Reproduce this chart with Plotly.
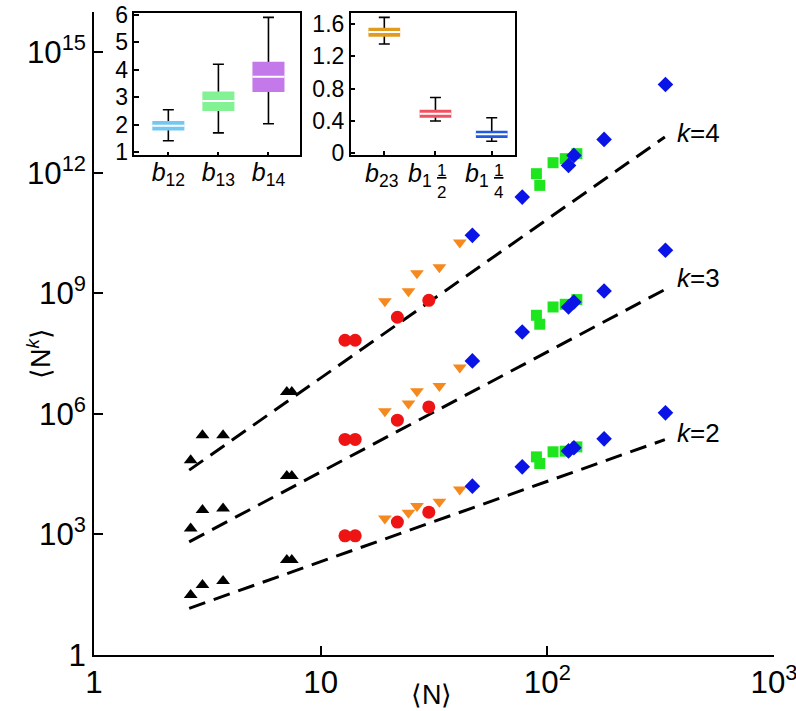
import plotly.graph_objects as go

# ---------------- main panel data ----------------
N_black = [2.67, 3.01, 3.71, 7.09, 7.46]
Nk2_black = [31, 55, 69, 230, 230]
Nk3_black = [1.41e3, 4.03e3, 4.44e3, 2.83e4, 2.83e4]
Nk4_black = [7.05e4, 2.95e5, 2.95e5, 3.52e6, 3.52e6]

N_red = [12.8, 14.2, 21.8, 30.0]
Nk2_red = [925, 925, 2.03e3, 3.59e3]
Nk3_red = [2.31e5, 2.31e5, 6.97e5, 1.49e6]
Nk4_red = [6.79e7, 6.79e7, 2.54e8, 6.70e8]

N_orange = [19.2, 24.4, 26.6, 33.4, 41.1]
Nk2_orange = [2.51e3, 3.45e3, 5.07e3, 6.49e3, 1.32e4]
Nk3_orange = [1.17e6, 1.81e6, 3.66e6, 4.97e6, 1.42e7]
Nk4_orange = [6.34e8, 1.12e9, 3.15e9, 4.44e9, 1.85e10]

N_blue = [46.7, 77.5, 124, 131, 178, 332]
Nk2_blue = [1.59e4, 4.81e4, 1.20e5, 1.43e5, 2.39e5, 1.06e6]
Nk3_blue = [2.08e7, 1.09e8, 4.57e8, 6.08e8, 1.14e9, 1.18e10]
Nk4_blue = [2.77e10, 2.48e11, 1.52e12, 2.70e12, 6.75e12, 1.57e14]

N_green = [89.5, 92.6, 106, 120, 135]
Nk2_green = [8.51e4, 5.83e4, 1.14e5, 1.18e5, 1.51e5]
Nk3_green = [2.84e8, 1.70e8, 4.57e8, 5.33e8, 6.98e8]
Nk4_green = [9.48e11, 4.85e11, 1.78e12, 2.24e12, 2.98e12]

fit_N = [2.63, 20, 330]
fit_k2 = [14.5, 838, 2.28e5]
fit_k3 = [656, 2.83e5, 1.24e9]
fit_k4 = [3.98e4, 1.2e8, 7.77e12]

# ---------------- inset data ----------------
inset1_labels = ['<i>b</i><sub>12</sub>', '<i>b</i><sub>13</sub>', '<i>b</i><sub>14</sub>']
inset1_low = [1.41, 1.70, 2.03]
inset1_q1 = [1.79, 2.50, 3.19]
inset1_med = [1.96, 2.86, 3.75]
inset1_q3 = [2.13, 3.21, 4.29]
inset1_high = [2.54, 4.20, 5.91]

inset2_main = ['23', '1', '1']
inset2_frac = ['', '2', '4']
inset2_low = [1.35, 0.40, 0.15]
inset2_q1 = [1.44, 0.44, 0.19]
inset2_med = [1.50, 0.49, 0.235]
inset2_q3 = [1.55, 0.54, 0.28]
inset2_high = [1.68, 0.69, 0.44]

# ---------------- styling ----------------
FONT = "Liberation Sans, Arial, sans-serif"
inset1_pos = [0, 1, 2]
inset2_pos = [0, 1, 2.1]
inset1_colors = ['#74C7F0', '#82F294', '#C379EA']
inset2_colors = ['#E19B1E', '#EF5363', '#2059E3']
PW = 680.0  # plot width in px

fig = go.Figure()

# dashed reference lines
for yy in (fit_k2, fit_k3, fit_k4):
    fig.add_trace(go.Scatter(x=fit_N, y=yy, mode='lines', showlegend=False,
                             line=dict(color='black', width=3, dash='17px,9px'),
                             xaxis='x', yaxis='y'))

series = [
    (N_black, (Nk2_black, Nk3_black, Nk4_black), 'triangle-up', 'black', 12),
    (N_red, (Nk2_red, Nk3_red, Nk4_red), 'circle', '#EE1414', 13),
    (N_orange, (Nk2_orange, Nk3_orange, Nk4_orange), 'triangle-down', '#F5891E', 12),
    (N_green, (Nk2_green, Nk3_green, Nk4_green), 'square', '#1EE61E', 11),
    (N_blue, (Nk2_blue, Nk3_blue, Nk4_blue), 'diamond', '#0A14E6', 12),
]
for xs, ys_list, sym, col, sz in series:
    for ys in ys_list:
        fig.add_trace(go.Scatter(x=xs, y=ys, mode='markers', showlegend=False,
                                 marker=dict(symbol=sym, color=col, size=sz,
                                             line=dict(width=0)),
                                 xaxis='x', yaxis='y'))


def add_inset(pos, low, q1, med, q3, high, colors, xa, ya, bw):
    # whiskers (drawn below the boxes)
    fig.add_trace(go.Bar(x=pos, y=med, base=0, width=bw,
                         marker=dict(color='rgba(0,0,0,0)', line=dict(width=0)),
                         error_y=dict(type='data', symmetric=False,
                                      array=[h - m for h, m in zip(high, med)],
                                      arrayminus=[m - l for m, l in zip(med, low)],
                                      color='black', thickness=1.6, width=5.5),
                         showlegend=False, xaxis=xa, yaxis=ya))
    # boxes
    fig.add_trace(go.Bar(x=pos, y=[b - a for a, b in zip(q1, q3)], base=q1, width=bw,
                         marker=dict(color=colors, line=dict(width=0)),
                         showlegend=False, xaxis=xa, yaxis=ya))
    # medians
    mx, my = [], []
    for p, m in zip(pos, med):
        mx += [p - bw / 2, p + bw / 2, None]
        my += [m, m, None]
    fig.add_trace(go.Scatter(x=mx, y=my, mode='lines', line=dict(color='white', width=2),
                             showlegend=False, xaxis=xa, yaxis=ya))


add_inset(inset1_pos, inset1_low, inset1_q1, inset1_med, inset1_q3, inset1_high,
          inset1_colors, 'x2', 'y2', 0.64)
add_inset(inset2_pos, inset2_low, inset2_q1, inset2_med, inset2_q3, inset2_high,
          inset2_colors, 'x3', 'y3', 0.62)

axis_common = dict(showline=True, linecolor='black', linewidth=2, ticks='inside',
                   tickcolor='black', showgrid=False, zeroline=False, automargin=False,
                   tickfont=dict(family=FONT, size=25, color='black'))
inset_common = dict(showline=True, linecolor='black', linewidth=1.5, mirror=True,
                    ticks='inside', tickcolor='black', tickwidth=1.5, automargin=False,
                    showgrid=False, zeroline=False,
                    tickfont=dict(family=FONT, size=23, color='black'))

annotations = []
# inset 2 x labels
for p, m, f in zip(inset2_pos, inset2_main, inset2_frac):
    if f == '':
        annotations.append(dict(x=p, y=0, xref='x3', yref='y3 domain', xanchor='center',
                                yanchor='top', yshift=-2, xshift=-3, showarrow=False,
                                text='<i>b</i><sub>' + m + '</sub>',
                                font=dict(family=FONT, size=25, color='black')))
    else:
        annotations.append(dict(x=p, y=0, xref='x3', yref='y3 domain', xanchor='right',
                                yanchor='top', yshift=-2, xshift=-1, showarrow=False,
                                text='<i>b</i><sub>' + m + '</sub>',
                                font=dict(family=FONT, size=25, color='black')))
        annotations.append(dict(x=p, y=0, xref='x3', yref='y3 domain', xanchor='left',
                                yanchor='top', yshift=-4, xshift=0, showarrow=False,
                                text='<u>1</u><br>' + f,
                                font=dict(family=FONT, size=17, color='black')))

# k labels
for txt, ypx in (('4', 116), ('3', 278), ('2', 433)):
    annotations.append(dict(x=(722 - 94) / PW, y=(655 - ypx) / 643, xref='paper',
                            yref='paper', showarrow=False, text='<i>k</i>=' + txt,
                            font=dict(family=FONT, size=26, color='black')))
# axis titles
annotations.append(dict(x=(432 - 94) / PW, y=(655 - 712) / 643, xref='paper', yref='paper',
                        showarrow=False, text='\u27e8N\u27e9',
                        font=dict(family=FONT, size=27, color='black')))
annotations.append(dict(x=(20 - 94) / PW, y=(655 - 354) / 643, xref='paper', yref='paper',
                        showarrow=False, text='\u27e8N<sup><i>k</i></sup>\u27e9', textangle=-90,
                        font=dict(family=FONT, size=27, color='black')))

fig.update_layout(
    template='none',
    width=796, height=711,
    margin=dict(l=94, r=22, t=12, b=56, autoexpand=False),
    paper_bgcolor='white', plot_bgcolor='white',
    barmode='overlay', showlegend=False,
    font=dict(family=FONT, color='black'),
    xaxis=dict(type='log', range=[0, 3], dtick=1, exponentformat='power',
               ticklen=9, tickwidth=2, ticklabelstandoff=0, ticklabeloverflow='allow',
               anchor='y', **axis_common),
    yaxis=dict(type='log', range=[0, 16], dtick=3, tick0=0, exponentformat='power',
               ticklen=9, tickwidth=2, ticklabelstandoff=1, ticklabeloverflow='allow',
               anchor='x', **axis_common),
    xaxis2=dict(domain=[(134.3 - 94) / PW, (300 - 94) / PW], range=[-0.68, 2.63], anchor='y2',
                tickvals=inset1_pos, ticktext=inset1_labels, ticklen=4, ticklabelstandoff=-6,
                **{**inset_common, 'tickfont': dict(family=FONT, size=25, color='black')}),
    yaxis2=dict(domain=[0.7771, 0.998], range=[0.88, 6.06], anchor='x2', dtick=1,
                ticklen=5, ticklabelstandoff=0, **inset_common),
    xaxis3=dict(domain=[(350.7 - 94) / PW, (515 - 94) / PW], range=[-0.657, 2.555], anchor='y3',
                tickvals=inset2_pos, showticklabels=False, ticklen=4, **inset_common),
    yaxis3=dict(domain=[0.7776, 0.998], range=[-0.02, 1.73], anchor='x3', dtick=0.4,
                tick0=0, ticklen=5, ticklabelstandoff=0, **inset_common),
    annotations=annotations,
)

fig.write_html(
    "out.html",
    config={'displayModeBar': False},
    post_script="document.body.style.margin='0';document.body.style.padding='0';"
                "document.documentElement.style.overflow='hidden';",
)
